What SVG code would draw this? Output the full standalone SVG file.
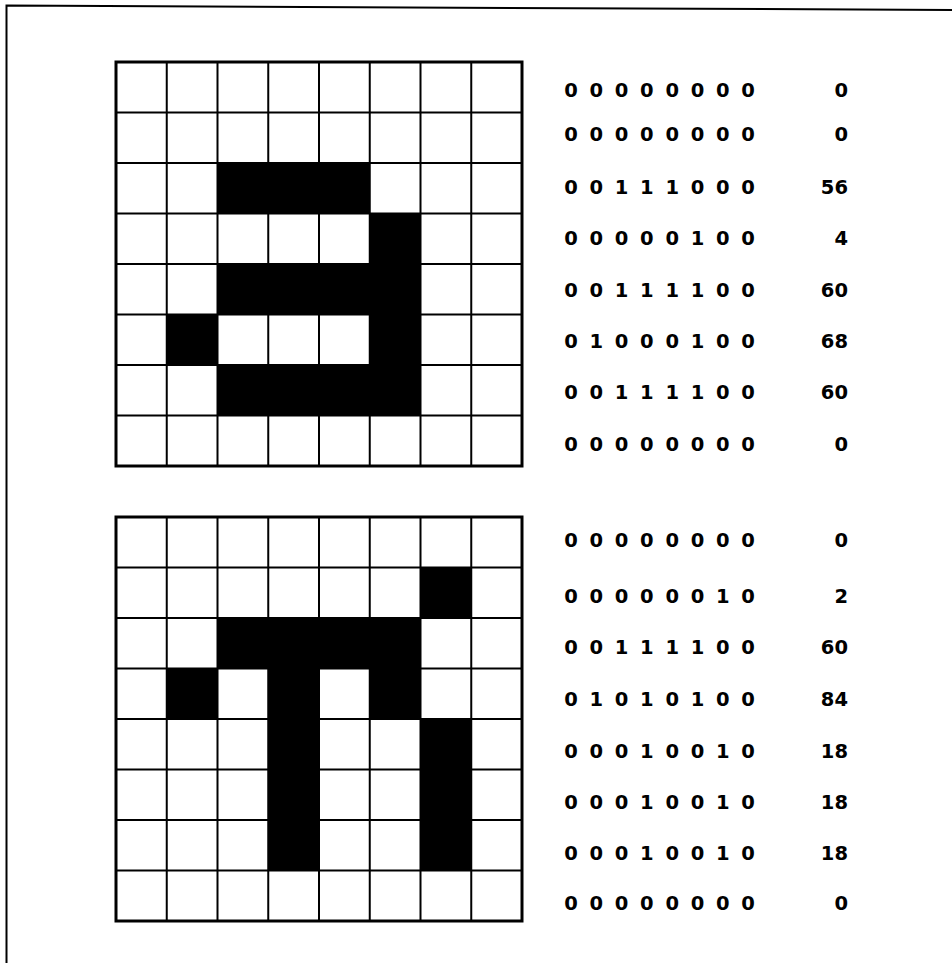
<svg xmlns="http://www.w3.org/2000/svg" width="952" height="963" viewBox="0 0 952 963">
<style>
.bg{fill:#fff}
.cell{fill:#000}
.outer{fill:none;stroke:#000;stroke-width:3}
.inner{fill:none;stroke:#000;stroke-width:2}
.frame{fill:none;stroke:#000;stroke-width:2}
.t{font-family:"DejaVu Sans","Liberation Sans",sans-serif;font-weight:bold;font-size:19.5px;fill:#000}
.b{text-anchor:middle}
.d{text-anchor:end}
</style>
<defs>
<path id="gridlines" d="M166.75 0V404 M217.5 0V404 M268.25 0V404 M319 0V404 M369.75 0V404 M420.5 0V404 M471.25 0V404 M116 50.5H522 M116 101H522 M116 151.5H522 M116 202H522 M116 252.5H522 M116 303H522 M116 353.5H522"/>
</defs>
<rect class="bg" x="0" y="0" width="952" height="963"/>
<path class="frame" d="M6.5 963V5.5L952 10"/>

<g id="grid-top">
<rect class="cell" x="217.5" y="163" width="152.25" height="50.5"/>
<rect class="cell" x="369.75" y="213.5" width="50.75" height="50.5"/>
<rect class="cell" x="217.5" y="264" width="203" height="50.5"/>
<rect class="cell" x="166.75" y="314.5" width="50.75" height="50.5"/>
<rect class="cell" x="369.75" y="314.5" width="50.75" height="50.5"/>
<rect class="cell" x="217.5" y="365" width="203" height="50.5"/>
<use href="#gridlines" class="inner" transform="translate(0,62)"/>
<rect class="outer" x="116" y="62" width="406" height="404"/>
</g>

<g id="grid-bottom">
<rect class="cell" x="420.5" y="567.5" width="50.75" height="50.5"/>
<rect class="cell" x="217.5" y="618" width="203" height="50.5"/>
<rect class="cell" x="166.75" y="668.5" width="50.75" height="50.5"/>
<rect class="cell" x="268.25" y="668.5" width="50.75" height="202"/>
<rect class="cell" x="369.75" y="668.5" width="50.75" height="50.5"/>
<rect class="cell" x="420.5" y="719" width="50.75" height="151.5"/>
<use href="#gridlines" class="inner" transform="translate(0,517)"/>
<rect class="outer" x="116" y="517" width="406" height="404"/>
</g>

<g id="codes-top" class="t">
<text class="b" x="571 596.3 621.6 646.9 672.2 697.5 722.8 748.1" y="97">00000000</text>
<text class="d" x="848" y="97">0</text>
<text class="b" x="571 596.3 621.6 646.9 672.2 697.5 722.8 748.1" y="141">00000000</text>
<text class="d" x="848" y="141">0</text>
<text class="b" x="571 596.3 621.6 646.9 672.2 697.5 722.8 748.1" y="194">00111000</text>
<text class="d" x="848" y="194">56</text>
<text class="b" x="571 596.3 621.6 646.9 672.2 697.5 722.8 748.1" y="245">00000100</text>
<text class="d" x="848" y="245">4</text>
<text class="b" x="571 596.3 621.6 646.9 672.2 697.5 722.8 748.1" y="297">00111100</text>
<text class="d" x="848" y="297">60</text>
<text class="b" x="571 596.3 621.6 646.9 672.2 697.5 722.8 748.1" y="348">01000100</text>
<text class="d" x="848" y="348">68</text>
<text class="b" x="571 596.3 621.6 646.9 672.2 697.5 722.8 748.1" y="399">00111100</text>
<text class="d" x="848" y="399">60</text>
<text class="b" x="571 596.3 621.6 646.9 672.2 697.5 722.8 748.1" y="451">00000000</text>
<text class="d" x="848" y="451">0</text>
</g>

<g id="codes-bottom" class="t">
<text class="b" x="571 596.3 621.6 646.9 672.2 697.5 722.8 748.1" y="547">00000000</text>
<text class="d" x="848" y="547">0</text>
<text class="b" x="571 596.3 621.6 646.9 672.2 697.5 722.8 748.1" y="603">00000010</text>
<text class="d" x="848" y="603">2</text>
<text class="b" x="571 596.3 621.6 646.9 672.2 697.5 722.8 748.1" y="654">00111100</text>
<text class="d" x="848" y="654">60</text>
<text class="b" x="571 596.3 621.6 646.9 672.2 697.5 722.8 748.1" y="706">01010100</text>
<text class="d" x="848" y="706">84</text>
<text class="b" x="571 596.3 621.6 646.9 672.2 697.5 722.8 748.1" y="758">00010010</text>
<text class="d" x="848" y="758">18</text>
<text class="b" x="571 596.3 621.6 646.9 672.2 697.5 722.8 748.1" y="809">00010010</text>
<text class="d" x="848" y="809">18</text>
<text class="b" x="571 596.3 621.6 646.9 672.2 697.5 722.8 748.1" y="860">00010010</text>
<text class="d" x="848" y="860">18</text>
<text class="b" x="571 596.3 621.6 646.9 672.2 697.5 722.8 748.1" y="910">00000000</text>
<text class="d" x="848" y="910">0</text>
</g>
</svg>
